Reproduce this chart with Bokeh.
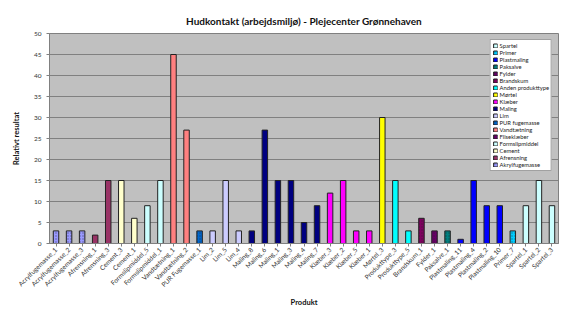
from math import pi
from bokeh.plotting import figure
from bokeh.models import FactorRange, Range1d, Legend, LegendItem, ColumnDataSource, SingleIntervalTicker
from bokeh.embed import file_html
from bokeh.resources import INLINE

products = ["Acrylfugemasse_1", "Acrylfugemasse_2", "Acrylfugemasse_3", "Afrensning_1", "Afrensning_3",
            "Cement_3", "Cement_1", "Formslipmiddel_5", "Formslipmiddel_1", "Vandtætning_1",
            "Vandtætning_2", "PUR Fugemasse_1", "Lim_2", "Lim_5", "Lim_4",
            "Maling_8", "Maling_6", "Maling_1", "Maling_3", "Maling_4",
            "Maling_7", "Klæber_3", "Klæber_2", "Klæber_5", "Klæber_1",
            "Mørtel_3", "Produkttype_3", "Produkttype_5", "Brandskum_1", "Fylder_1",
            "Paksalve_1", "Plastmaling_11", "Plastmaling_4", "Plastmaling_2", "Plastmaling_10",
            "Primer_7", "Spartel_1", "Spartel_2", "Spartel_3"]
values = [3, 3, 3, 2, 15,
          15, 6, 9, 15, 45,
          27, 3, 3, 15, 3,
          3, 27, 15, 15, 5,
          9, 12, 15, 3, 3,
          30, 15, 3, 6, 3,
          3, 1, 15, 9, 9,
          3, 9, 15, 9]
groups = ["Akrylfugemasse"] * 3 + ["Afrensning"] * 2 + ["Cement"] * 2 + ["Formslipmiddel"] * 2 + \
         ["Vandtætning"] * 2 + ["PUR fugemasse"] + ["Lim"] * 3 + ["Maling"] * 6 + ["Klæber"] * 4 + \
         ["Mørtel"] + ["Anden produkttype"] * 2 + ["Brandskum"] + ["Fylder"] + ["Paksalve"] + \
         ["Plastmaling"] * 4 + ["Primer"] + ["Spartel"] * 3

series = ["Spartel", "Primer", "Plastmaling", "Paksalve", "Fylder", "Brandskum", "Anden produkttype",
          "Mørtel", "Klæber", "Maling", "Lim", "PUR fugemasse", "Vandtætning", "Fliseklæber",
          "Formslipmiddel", "Cement", "Afrensning", "Akrylfugemasse"]
colors = ["#CCFFFF", "#00CCFF", "#0000FF", "#008080", "#660066", "#800060", "#00FFFF",
          "#FFFF00", "#FF00FF", "#000080", "#CCCCFF", "#0066CC", "#FF8080", "#660066",
          "#CCFFFF", "#FFFFCC", "#993366", "#9999FF"]
hatches = ["", "dot", "", "dot", "dot", "dot", "",
           "", "", "", "", "dot", "", "",
           "", "", "checker", "dot"]

FONT = "Lato"

p = figure(width=566, height=309,
           x_range=FactorRange(factors=products, range_padding=0),
           y_range=Range1d(0, 50),
           output_backend="svg", toolbar_location=None,
           min_border_left=49, min_border_right=8, min_border_top=33, min_border_bottom=62)

p.title.text = "Hudkontakt (arbejdsmiljø) - Plejecenter Grønnehaven"
p.title.align = "center"
p.title.text_font = FONT
p.title.text_font_size = "10px"
p.title.text_font_style = "bold"
p.title.text_color = "#111111"
p.title.standoff = 14

p.background_fill_color = "#C0C0C0"
p.border_fill_color = "white"
p.outline_line_color = "#808080"
p.xgrid.visible = False
p.ygrid.grid_line_color = "#808080"
p.ygrid.grid_line_width = 1

items = []
for s, c, h in zip(series, colors, hatches):
    xs = [pr for pr, g in zip(products, groups) if g == s]
    ys = [v for v, g in zip(values, groups) if g == s]
    if not xs:
        # series without any bar: a zero-height entry so its legend swatch is drawn
        xs, ys = [products[-1]], [0]
    src = ColumnDataSource(dict(x=xs, top=ys))
    kw = {}
    if h:
        kw = dict(hatch_pattern=h, hatch_color="#222222", hatch_scale=3, hatch_alpha=0.5)
    r = p.vbar(x="x", top="top", width=0.42, bottom=0, source=src,
               fill_color=c, line_color="#222222", line_width=1, **kw)
    items.append(LegendItem(label=s, renderers=[r]))

legend = Legend(items=items, location="top_right")
legend.label_text_font = FONT
legend.label_text_font_size = "5.8px"
legend.label_text_color = "#222222"
legend.label_height = 5
legend.label_standoff = 2
legend.glyph_height = 5
legend.glyph_width = 5
legend.spacing = 0
legend.padding = 2
legend.margin = 6
legend.border_line_color = "#444444"
legend.background_fill_color = "white"
legend.background_fill_alpha = 1
p.add_layout(legend)

p.yaxis.ticker = SingleIntervalTicker(interval=5)
p.yaxis.axis_label = "Relativt resultat"
p.xaxis.axis_label = "Produkt"
for ax in (p.xaxis, p.yaxis):
    ax.axis_label_text_font = FONT
    ax.axis_label_text_font_size = "7.5px"
    ax.axis_label_text_font_style = "bold"
    ax.axis_label_text_color = "#111111"
    ax.major_label_text_font = FONT
    ax.major_label_text_font_size = "6.5px"
    ax.major_label_text_color = "#333333"
    ax.axis_line_color = "#808080"
    ax.major_tick_line_color = "#808080"
    ax.minor_tick_line_color = None
    ax.major_tick_in = 0
    ax.major_tick_out = 3
p.xaxis.major_label_orientation = pi / 4
p.xaxis.major_label_standoff = 2
p.xaxis.axis_label_standoff = 4
p.yaxis.major_label_standoff = 4
p.yaxis.axis_label_standoff = 10

open("out.html", "w").write(file_html(p, INLINE))
